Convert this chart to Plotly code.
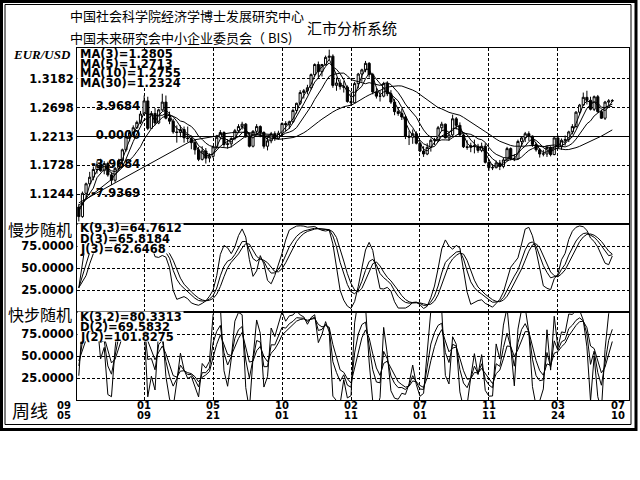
import pandas as pd
import plotly.graph_objects as go
from plotly.subplots import make_subplots

# ---------------- data (weekly EUR/USD bars) ----------------
opens = [1.1030, 1.0870, 1.1260, 1.1420, 1.1530, 1.1660, 1.1740, 1.1640, 1.1760, 1.1570,
         1.1480, 1.1680, 1.1810, 1.1990, 1.2210, 1.2280, 1.2360, 1.2450, 1.2590, 1.2810,
         1.2350, 1.2600, 1.2440, 1.2660, 1.2790, 1.2520, 1.2470, 1.2290, 1.2280, 1.2330,
         1.2190, 1.2180, 1.2110, 1.1990, 1.1830, 1.1970, 1.1850, 1.1880, 1.2040, 1.2200,
         1.2280, 1.2080, 1.2090, 1.2180, 1.2310, 1.2380, 1.2420, 1.2210, 1.2050, 1.2300,
         1.2380, 1.2280, 1.2050, 1.2140, 1.2260, 1.2180, 1.2270, 1.2430, 1.2410, 1.2460,
         1.2650, 1.2770, 1.2950, 1.2980, 1.3030, 1.3250, 1.3420, 1.3300, 1.3420, 1.3540,
         1.3560, 1.3070, 1.3110, 1.3050, 1.3040, 1.2800, 1.2780, 1.3100, 1.3260, 1.3330,
         1.3440, 1.3250, 1.2960, 1.2890, 1.2890, 1.3100, 1.2930, 1.2790, 1.2630, 1.2600,
         1.2540, 1.2220, 1.2200, 1.2260, 1.2100, 1.1970, 1.1920, 1.2030, 1.2150, 1.2160,
         1.2360, 1.2420, 1.2190, 1.2240, 1.2510, 1.2400, 1.2240, 1.2040, 1.2030, 1.2060,
         1.2050, 1.1980, 1.2050, 1.1780, 1.1690, 1.1690, 1.1770, 1.1710, 1.1820, 1.2010,
         1.1840, 1.1840, 1.2130, 1.2190, 1.2260, 1.2220, 1.2080, 1.1990, 1.1920, 1.1920,
         1.2030, 1.1910, 1.2190, 1.2040, 1.2150, 1.2160, 1.2290, 1.2380, 1.2620, 1.2740,
         1.2870, 1.2820, 1.2670, 1.2880, 1.2630, 1.2520, 1.2790, 1.2810]
highs = [1.1080, 1.1290, 1.1440, 1.1620, 1.1710, 1.1800, 1.1840, 1.1800, 1.1790, 1.1610,
         1.1700, 1.1840, 1.2010, 1.2220, 1.2320, 1.2400, 1.2480, 1.2640, 1.2900, 1.2880,
         1.2640, 1.2690, 1.2680, 1.2930, 1.2900, 1.2630, 1.2510, 1.2400, 1.2400, 1.2380,
         1.2380, 1.2230, 1.2160, 1.2040, 1.2050, 1.2020, 1.1930, 1.2060, 1.2240, 1.2320,
         1.2300, 1.2170, 1.2200, 1.2340, 1.2420, 1.2460, 1.2440, 1.2280, 1.2320, 1.2420,
         1.2400, 1.2300, 1.2200, 1.2290, 1.2300, 1.2310, 1.2450, 1.2470, 1.2480, 1.2680,
         1.2780, 1.2990, 1.3010, 1.3080, 1.3270, 1.3440, 1.3470, 1.3430, 1.3570, 1.3670,
         1.3590, 1.3200, 1.3170, 1.3140, 1.3070, 1.2940, 1.3130, 1.3280, 1.3350, 1.3480,
         1.3460, 1.3280, 1.3030, 1.2980, 1.3130, 1.3140, 1.2990, 1.2840, 1.2690, 1.2680,
         1.2560, 1.2310, 1.2330, 1.2300, 1.2130, 1.2050, 1.2100, 1.2180, 1.2190, 1.2390,
         1.2460, 1.2430, 1.2290, 1.2580, 1.2540, 1.2450, 1.2260, 1.2150, 1.2110, 1.2160,
         1.2090, 1.2110, 1.2100, 1.1830, 1.1750, 1.1810, 1.1820, 1.1860, 1.2040, 1.2030,
         1.1920, 1.2160, 1.2210, 1.2290, 1.2300, 1.2230, 1.2110, 1.2020, 1.1990, 1.2060,
         1.2050, 1.2200, 1.2230, 1.2180, 1.2230, 1.2310, 1.2420, 1.2640, 1.2760, 1.2950,
         1.2980, 1.2880, 1.2900, 1.2910, 1.2660, 1.2810, 1.2840, 1.2840]
lows = [1.0790, 1.0850, 1.1180, 1.1380, 1.1480, 1.1590, 1.1620, 1.1580, 1.1540, 1.1400,
        1.1440, 1.1640, 1.1770, 1.1960, 1.2130, 1.2220, 1.2340, 1.2420, 1.2560, 1.2320,
        1.2340, 1.2400, 1.2420, 1.2640, 1.2500, 1.2420, 1.2260, 1.2110, 1.2200, 1.2110,
        1.2120, 1.2000, 1.1910, 1.1800, 1.1810, 1.1760, 1.1780, 1.1850, 1.2010, 1.2170,
        1.2040, 1.2010, 1.2030, 1.2150, 1.2280, 1.2330, 1.2190, 1.2030, 1.2030, 1.2230,
        1.2200, 1.2010, 1.1980, 1.2100, 1.2140, 1.2160, 1.2240, 1.2300, 1.2340, 1.2440,
        1.2600, 1.2740, 1.2850, 1.2920, 1.3000, 1.3220, 1.3200, 1.3220, 1.3400, 1.3500,
        1.3030, 1.2980, 1.3000, 1.2950, 1.2780, 1.2730, 1.2770, 1.3020, 1.3130, 1.3290,
        1.3200, 1.2920, 1.2850, 1.2800, 1.2870, 1.2890, 1.2760, 1.2570, 1.2560, 1.2490,
        1.2170, 1.2070, 1.2090, 1.2080, 1.1950, 1.1870, 1.1900, 1.1960, 1.2070, 1.2120,
        1.2300, 1.2180, 1.2140, 1.2220, 1.2330, 1.2210, 1.2020, 1.1990, 1.1950, 1.1930,
        1.1940, 1.1950, 1.1760, 1.1640, 1.1650, 1.1680, 1.1650, 1.1680, 1.1800, 1.1810,
        1.1800, 1.1830, 1.2050, 1.2120, 1.2140, 1.2040, 1.1960, 1.1860, 1.1880, 1.1870,
        1.1880, 1.1900, 1.2020, 1.1990, 1.2060, 1.2120, 1.2250, 1.2360, 1.2580, 1.2730,
        1.2750, 1.2650, 1.2640, 1.2610, 1.2510, 1.2490, 1.2740, 1.2790]
closes = [1.0870, 1.1260, 1.1420, 1.1530, 1.1660, 1.1740, 1.1640, 1.1760, 1.1570, 1.1480,
          1.1680, 1.1810, 1.1990, 1.2210, 1.2280, 1.2360, 1.2450, 1.2590, 1.2810, 1.2350,
          1.2600, 1.2440, 1.2660, 1.2790, 1.2520, 1.2470, 1.2290, 1.2280, 1.2330, 1.2190,
          1.2180, 1.2110, 1.1990, 1.1830, 1.1970, 1.1850, 1.1880, 1.2040, 1.2200, 1.2280,
          1.2080, 1.2090, 1.2180, 1.2310, 1.2380, 1.2420, 1.2210, 1.2050, 1.2300, 1.2380,
          1.2280, 1.2050, 1.2140, 1.2260, 1.2180, 1.2270, 1.2430, 1.2410, 1.2460, 1.2650,
          1.2770, 1.2950, 1.2980, 1.3030, 1.3250, 1.3420, 1.3300, 1.3420, 1.3540, 1.3560,
          1.3070, 1.3110, 1.3050, 1.3040, 1.2800, 1.2780, 1.3100, 1.3260, 1.3330, 1.3440,
          1.3250, 1.2960, 1.2890, 1.2890, 1.3100, 1.2930, 1.2790, 1.2630, 1.2600, 1.2540,
          1.2220, 1.2200, 1.2260, 1.2100, 1.1970, 1.1920, 1.2030, 1.2150, 1.2160, 1.2360,
          1.2420, 1.2190, 1.2240, 1.2510, 1.2400, 1.2240, 1.2040, 1.2030, 1.2060, 1.2050,
          1.1980, 1.2050, 1.1780, 1.1690, 1.1690, 1.1770, 1.1710, 1.1820, 1.2010, 1.1840,
          1.1840, 1.2130, 1.2190, 1.2260, 1.2220, 1.2080, 1.1990, 1.1920, 1.1920, 1.2030,
          1.1910, 1.2190, 1.2040, 1.2150, 1.2160, 1.2290, 1.2380, 1.2620, 1.2740, 1.2870,
          1.2820, 1.2670, 1.2880, 1.2630, 1.2520, 1.2790, 1.2810, 1.2815]

label_bars = [0, 18, 37, 56, 75, 94, 113, 132, 147]
tick_top = ["09", "01", "05", "10", "02", "07", "11", "03", "07"]
tick_bottom = ["05", "09", "21", "01", "11", "01", "11", "24", "10"]

price_ticks = [1.1244, 1.1728, 1.2213, 1.2698, 1.3182]
price_range = [1.0746, 1.3697]
base_level = 1.2213
osc_ticks = [25, 50, 75]
overlay_levels = [1.2698, 1.2213, 1.1728, 1.1244]
overlay_text = ["3.9684", "0.0000", "-3.9684", "-7.9369"]

ma_periods = [3, 5, 10, 30]
ma_first = [1.0960, 1.1000, 1.1060, 1.1100]
ma_labels = ["MA(3)=1.2805", "MA(5)=1.2713", "MA(10)=1.2755", "MA(30)=1.2324"]
slow_labels = ["K(9,3)=64.7612", "D(3)=65.8184", "J(3)=62.6468"]
fast_labels = ["K(3,2)=80.3313", "D(2)=69.5832", "J(2)=101.8275"]
fast_start = 50.0

# ---------------- helpers ----------------
W, H = 640, 480
L, R, T, B = 77, 11, 48, 80
PW, PH = W - L - R, H - T - B
SANS = "DejaVu Sans"
CJK = "Noto Sans CJK SC"


def px(xp):
    return (xp - L) / PW


def py(yp):
    return (H - B - yp) / PH


def window(seq, i, n):
    return seq[max(0, i - n + 1):i + 1]


def slow_stoch(n, m1, m2):
    # slowed RSV over n bars, K smoothed 1/m1, D = m2-bar mean of K
    num = [closes[i] - min(window(lows, i, n)) for i in range(len(closes))]
    den = [max(window(highs, i, n)) - min(window(lows, i, n)) for i in range(len(closes))]
    K, D, J = [], [], []
    k = None
    for i in range(len(closes)):
        rsv = 100 * sum(window(num, i, m1)) / sum(window(den, i, m1))
        k = rsv if k is None else ((m1 - 1) * k + rsv) / m1
        K.append(k)
        kk = window(K, i, m2)
        d = sum(kk) / len(kk)
        D.append(d)
        J.append(3 * k - 2 * d)
    return K, D, J


def fast_stoch(n, m1, m2, start):
    k = d = start
    K, D, J = [], [], []
    for i in range(len(closes)):
        lo = min(window(lows, i, n))
        hi = max(window(highs, i, n))
        rsv = (closes[i] - lo) / (hi - lo) * 100 if hi > lo else 50
        k = ((m1 - 1) * k + rsv) / m1
        d = ((m2 - 1) * d + k) / m2
        K.append(k)
        D.append(d)
        J.append(3 * k - 2 * d)
    return K, D, J


N = len(closes)
xs = list(range(N))
xmax = 151.6

fig = make_subplots(rows=3, cols=1, shared_xaxes=True, vertical_spacing=0,
                    row_heights=[0.5, 0.25, 0.25])

# overlay scale labels drawn underneath the candles
fig.add_trace(go.Scatter(x=[16.9] * len(overlay_levels), y=overlay_levels, text=overlay_text,
                         mode="text", textposition="middle left",
                         textfont=dict(family=SANS, size=11.5, color="black", weight="bold"),
                         hoverinfo="skip"), row=1, col=1)

fig.add_trace(go.Candlestick(x=xs, open=opens, high=highs, low=lows, close=closes,
                             increasing=dict(line=dict(color="black", width=1), fillcolor="white"),
                             decreasing=dict(line=dict(color="black", width=1), fillcolor="black"),
                             whiskerwidth=0, hoverinfo="skip"), row=1, col=1)

cs = pd.Series(closes)
for n, first in zip(ma_periods, ma_first):
    ma = cs.rolling(n).mean().tolist()
    ma[0] = first
    fig.add_trace(go.Scatter(x=xs, y=ma, mode="lines", connectgaps=True,
                             line=dict(color="black", width=1), hoverinfo="skip"), row=1, col=1)

for row, series_set in ((2, slow_stoch(9, 3, 3)), (3, fast_stoch(3, 2, 2, fast_start))):
    for series in series_set:
        fig.add_trace(go.Scatter(x=xs, y=series, mode="lines",
                                 line=dict(color="black", width=1), hoverinfo="skip"),
                      row=row, col=1)

grid_bars = label_bars[1:-1]
fig.update_xaxes(range=[-0.5, xmax], tickvals=grid_bars, showticklabels=False,
                 showgrid=True, gridcolor="black", griddash="3px,2px", gridwidth=1,
                 showline=True, mirror=True, linecolor="black", linewidth=1,
                 zeroline=False, ticks="", rangeslider_visible=False, fixedrange=True)

tickfont = dict(family=SANS, size=11.5, color="black", weight="bold")
fig.update_yaxes(range=price_range, tickvals=price_ticks,
                 ticktext=[f"{v:.4f}" for v in price_ticks], row=1, col=1)
for row in (2, 3):
    fig.update_yaxes(range=[0, 100], tickvals=osc_ticks,
                     ticktext=[f"{v:.4f}" for v in osc_ticks], row=row, col=1)
fig.update_yaxes(showgrid=True, gridcolor="black", griddash="3px,2px", gridwidth=1,
                 showline=True, mirror=True, linecolor="black", linewidth=1,
                 zeroline=False, ticks="", tickfont=tickfont, fixedrange=True)

shapes = [
    dict(type="line", xref="paper", x0=0, x1=1, yref="y", y0=base_level, y1=base_level,
         line=dict(color="black", width=1), layer="below"),
    dict(type="rect", xref="paper", yref="paper", x0=px(1.5), x1=px(636), y0=py(429.5), y1=py(1.5),
         line=dict(color="black", width=3)),
    dict(type="rect", xref="paper", yref="paper", x0=px(5), x1=px(631), y0=py(424.5), y1=py(4.5),
         line=dict(color="black", width=1)),
]

ann = []


def text(x, y, s, size, family=SANS, xanchor="left", bold=False, style="normal"):
    ann.append(dict(x=x, y=y, xref="paper", yref="paper", text=s, showarrow=False,
                    xanchor=xanchor, yanchor="middle",
                    font=dict(family=family, size=size, color="black",
                              weight="bold" if bold else "normal", style=style)))


text(px(68), py(15), "中国社会科学院经济学博士发展研究中心", 13, CJK)
text(px(68), py(37), "中国未来研究会中小企业委员会（ BIS)", 13, CJK)
text(px(305), py(27), "汇市分析系统", 15, CJK)
text(px(73), py(54), "EUR/USD", 13, "Liberation Serif", "right", True, "italic")
text(px(74), py(229), "慢步随机", 16, CJK, "right")
text(px(74), py(314), "快步随机", 16, CJK, "right")
text(px(30), py(410), "周线", 18, CJK, "center")

# in-panel value labels, on opaque white boxes like the original
LBL = 11.5
for labels, rows_y in ((ma_labels, [54, 64, 73.5, 83]),
                       (slow_labels, [228.5, 238.5, 248.5]),
                       (fast_labels, [316.5, 326.5, 336.5])):
    for s, yp in zip(labels, rows_y):
        wpx = 0.64 * LBL * len(s) + 3
        shapes.append(dict(type="rect", xref="paper", yref="paper",
                           x0=px(77.5), x1=px(77.5 + wpx), y0=py(yp + 5), y1=py(yp - 5),
                           fillcolor="white", line=dict(width=0), layer="above"))
        text(px(78), py(yp), s, LBL, SANS, "left", True)

for i, (b, t1, t2) in enumerate(zip(label_bars, tick_top, tick_bottom)):
    if i == 0:
        xv, anchor = -0.5, "right"
    elif i == len(label_bars) - 1:
        xv, anchor = xmax, "right"
    else:
        xv, anchor = b, "center"
    for s, yp in ((t1, 405), (t2, 415)):
        ann.append(dict(x=xv, y=py(yp), xref="x3", yref="paper", text=s, showarrow=False,
                        xanchor=anchor, yanchor="middle",
                        xshift=-4 if i == 0 else (-2 if anchor == "right" else 0),
                        font=dict(family=SANS, size=10, color="black", weight="bold")))

fig.update_layout(width=W, height=H, margin=dict(l=L, r=R, t=T, b=B),
                  paper_bgcolor="white", plot_bgcolor="white", showlegend=False,
                  shapes=shapes, annotations=ann, hovermode=False, boxgap=0.15)

fig.write_html("out.html", config={"displayModeBar": False},
               post_script="document.body.style.margin='0px';document.body.style.overflow='hidden';")
